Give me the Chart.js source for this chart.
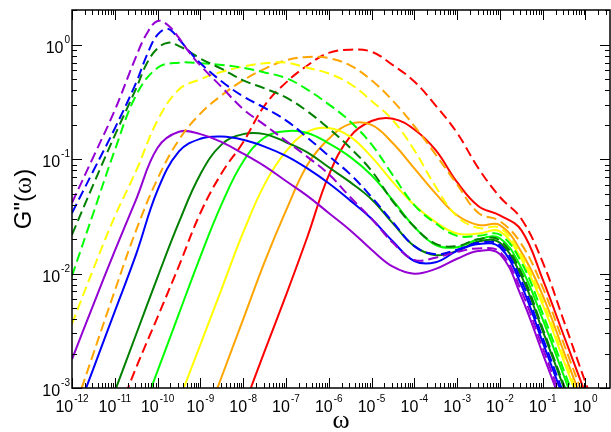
<!DOCTYPE html>
<html><head><meta charset="utf-8">
<script src="https://cdn.jsdelivr.net/npm/chart.js@4.4.0/dist/chart.umd.min.js"></script>
<style>html,body{margin:0;padding:0;background:#fff;}canvas{display:block;}</style>
</head><body>
<canvas id="c" width="611" height="432"></canvas>
<script>
// frequency grids (half decades; a finer one around the sharp low-frequency peaks)
const omega = [1e-12,3.16e-12,1e-11,3.16e-11,1e-10,3.16e-10,1e-9,3.16e-9,1e-8,3.16e-8,1e-7,3.16e-7,1e-6,3.16e-6,1e-5,3.16e-5,1e-4,3.16e-4,1e-3,3.16e-3,1e-2,3.16e-2,0.1,0.316,1,3.16];
const omegaFine = [1e-12,3.16e-12,1e-11,3.16e-11,5.62e-11,1e-10,1.78e-10,3.16e-10,5.62e-10,1e-9,3.16e-9,1e-8,3.16e-8,1e-7,3.16e-7,1e-6,3.16e-6,1e-5,3.16e-5,1e-4,3.16e-4,1e-3,3.16e-3,1e-2,3.16e-2,0.1,0.316,1,3.16];

const purpleSolid = [0.00178,0.00537,0.0158,0.0447,0.126,0.174,0.166,0.141,0.112,0.0871,0.0646,0.0479,0.0339,0.0240,0.0162,0.0115,0.0100,0.0110,0.0135,0.0158,0.0148,0.00631,0.00200,0.000631,null,null];
const purpleDash = [0.0417,0.105,0.269,0.794,1.26,1.62,1.48,1.15,0.851,0.661,0.427,0.275,0.200,0.145,0.105,0.0741,0.0468,0.0302,0.0186,0.0132,0.0138,0.0155,0.0166,0.0155,0.00708,0.00224,0.000708,null,null];
const blueSolid = [0.000468,0.00148,0.00468,0.0148,0.0537,0.117,0.151,0.158,0.148,0.129,0.107,0.0832,0.0617,0.0437,0.0302,0.0191,0.0129,0.0126,0.0158,0.0182,0.0170,0.00794,0.00251,0.000794,null,null];
const blueDash = [0.0339,0.0794,0.186,0.468,0.813,1.23,1.38,1.12,0.871,0.692,0.479,0.355,0.282,0.219,0.155,0.107,0.0741,0.0468,0.0282,0.0174,0.0148,0.0162,0.0186,0.0178,0.00871,0.00275,0.000871,null,null];
const darkGreenSolid = [null,null,0.000933,0.00295,0.00933,0.0282,0.0741,0.135,0.166,0.166,0.141,0.115,0.0851,0.0631,0.0447,0.0275,0.0174,0.0145,0.0158,0.0191,0.0186,0.00955,0.00316,0.00100,0.000316,null];
const darkGreenDash = [0.0219,0.0603,0.162,0.417,0.692,0.933,1.047,0.977,0.871,0.759,0.617,0.490,0.417,0.347,0.263,0.186,0.126,0.0794,0.0427,0.0257,0.0182,0.0174,0.0200,0.0195,0.0102,0.00331,0.00105,0.000331,null];
const greenSolid = [null,null,null,0.000447,0.00141,0.00447,0.0141,0.0407,0.0955,0.155,0.176,0.170,0.138,0.105,0.0724,0.0437,0.0257,0.0178,0.0170,0.0200,0.0204,0.0112,0.00398,0.00126,0.000398,null];
const greenDash = [0.00955,0.0339,0.120,0.363,0.631,0.700,0.692,0.668,0.631,0.575,0.513,0.407,0.302,0.214,0.135,0.0724,0.0398,0.0275,0.0214,0.0214,0.0219,0.0126,0.00447,0.00141,0.000447,null];
const yellowSolid = [null,null,null,null,null,0.000776,0.00240,0.00741,0.0229,0.0603,0.117,0.174,0.188,0.158,0.105,0.0631,0.0398,0.0282,0.0224,0.0224,0.0234,0.0135,0.00537,0.00170,0.000537,null];
const yellowDash = [0.00363,0.0110,0.0316,0.0794,0.219,0.407,0.501,0.582,0.646,0.692,0.700,0.631,0.562,0.457,0.324,0.219,0.120,0.0575,0.0316,0.0251,0.0251,0.0145,0.00575,0.00182,0.000575,null];
const orangeSolid = [null,null,null,null,null,null,0.000398,0.00126,0.00398,0.0126,0.0355,0.0891,0.151,0.204,0.200,0.138,0.0832,0.0501,0.0324,0.0266,0.0266,0.0155,0.00646,0.00204,0.000646,null];
const orangeDash = [0.000562,0.00200,0.00708,0.0240,0.0676,0.148,0.251,0.363,0.490,0.617,0.733,0.785,0.767,0.661,0.490,0.324,0.195,0.110,0.0603,0.0339,0.0288,0.0182,0.00759,0.00240,0.000759,null];
const redSolid = [null,null,null,null,null,null,null,null,0.000661,0.00209,0.00646,0.0209,0.0724,0.158,0.216,0.226,0.182,0.120,0.0631,0.0389,0.0324,0.0240,0.00891,0.00282,0.000891,null];
const redDash = [null,null,0.000501,0.00151,0.00417,0.0117,0.0339,0.0759,0.141,0.295,0.468,0.661,0.851,0.908,0.871,0.665,0.479,0.295,0.170,0.0832,0.0468,0.0302,0.0126,0.00380,0.00112,0.000355];

const xTickExponents = ['-12','-11','-10','-9','-8','-7','-6','-5','-4','-3','-2','-1','0'];
const yTickExponents = ['-3','-2','-1','0'];
const xTitle = 'ω';
const yTitleParts = ['G"(', 'ω', ')'];

const X_MIN = 1e-12, X_MAX = 3.74, Y_MIN = 1e-3, Y_MAX = 2.02;

function pts(xs, ys){ return xs.map((x,i)=>({x:x, y:ys[i]})); }
function ds(xs, ys, color, dashed){
  return { data: pts(xs, ys), borderColor: color, borderWidth: 2, borderDash: dashed ? [10,5] : [],
           pointRadius: 0, fill: false, tension: 0.4, cubicInterpolationMode: 'default', spanGaps: false };
}
const C = {purple:'#9400d3', blue:'#0000ff', dgreen:'#008000', green:'#00ff00', yellow:'#ffff00', orange:'#ffa500', red:'#ff0000'};
const datasets = [
  ds(omegaFine, purpleDash, C.purple, true),
  ds(omegaFine, blueDash, C.blue, true),
  ds(omegaFine, darkGreenDash, C.dgreen, true),
  ds(omega, greenDash, C.green, true),
  ds(omega, yellowDash, C.yellow, true),
  ds(omega, orangeDash, C.orange, true),
  ds(omega, redDash, C.red, true),
  ds(omega, purpleSolid, C.purple, false),
  ds(omega, blueSolid, C.blue, false),
  ds(omega, darkGreenSolid, C.dgreen, false),
  ds(omega, greenSolid, C.green, false),
  ds(omega, yellowSolid, C.yellow, false),
  ds(omega, orangeSolid, C.orange, false),
  ds(omega, redSolid, C.red, false)
];

const BASE_FONT = '16px "Liberation Sans", Arial, sans-serif';
const SUP_FONT = '10px "Liberation Sans", Arial, sans-serif';

function drawPow(ctx, exp, x, y, align){
  ctx.font = BASE_FONT; const wb = ctx.measureText('10').width;
  ctx.font = SUP_FONT; const ws = ctx.measureText(exp).width;
  const gap = 1, total = wb + gap + ws;
  const x0 = align === 'center' ? x - total/2 : x - total;
  ctx.font = BASE_FONT; ctx.fillText('10', x0, y);
  ctx.font = SUP_FONT; ctx.fillText(exp, x0 + wb + gap, y - 10);
}

const framePlugin = {
  id: 'frame',
  afterDatasetsDraw(chart){
    const ctx = chart.ctx, a = chart.chartArea, xs = chart.scales.x, ys = chart.scales.y;
    ctx.save();
    ctx.fillStyle = '#000'; ctx.strokeStyle = '#000';
    ctx.lineWidth = 1;
    ctx.beginPath();
    for (let d = -12; d <= 0; d++){
      for (let m = 1; m <= 9; m++){
        const v = m * Math.pow(10, d);
        if (v < X_MIN || v > X_MAX) continue;
        const px = Math.round(xs.getPixelForValue(v)) + 0.5;
        const len = m === 1 ? 10 : 5;
        ctx.moveTo(px, a.bottom); ctx.lineTo(px, a.bottom - len);
        ctx.moveTo(px, a.top); ctx.lineTo(px, a.top + len);
      }
    }
    for (let d = -3; d <= 0; d++){
      for (let m = 1; m <= 9; m++){
        const v = m * Math.pow(10, d);
        if (v < Y_MIN || v > Y_MAX) continue;
        const py = Math.round(ys.getPixelForValue(v)) + 0.5;
        const len = m === 1 ? 10 : 5;
        ctx.moveTo(a.left, py); ctx.lineTo(a.left + len, py);
        ctx.moveTo(a.right, py); ctx.lineTo(a.right - len, py);
      }
    }
    ctx.stroke();
    ctx.lineWidth = 1.5;
    ctx.strokeRect(a.left, a.top, a.right - a.left, a.bottom - a.top);
    ctx.textBaseline = 'alphabetic'; ctx.textAlign = 'left';
    xTickExponents.forEach(e => {
      const px = xs.getPixelForValue(Math.pow(10, +e));
      drawPow(ctx, e, px, a.bottom + 24, 'center');
    });
    yTickExponents.forEach(e => {
      const py = ys.getPixelForValue(Math.pow(10, +e));
      drawPow(ctx, e, a.left - 2, py + 8, 'right');
    });
    ctx.font = '26px "Liberation Serif", "Times New Roman", serif';
    ctx.textAlign = 'center';
    ctx.fillText(xTitle, (a.left + a.right)/2, 428);
    ctx.translate(31, 199);
    ctx.rotate(-Math.PI/2);
    const f1 = '24px "Liberation Sans", Arial, sans-serif', f2 = '26px "Liberation Serif", serif';
    ctx.font = f1; const w1 = ctx.measureText(yTitleParts[0]).width, w3 = ctx.measureText(yTitleParts[2]).width;
    ctx.font = f2; const w2 = ctx.measureText(yTitleParts[1]).width;
    let x0 = -(w1 + w2 + w3)/2;
    ctx.textAlign = 'left';
    ctx.font = f1; ctx.fillText(yTitleParts[0], x0, 0);
    ctx.font = f2; ctx.fillText(yTitleParts[1], x0 + w1, 0);
    ctx.font = f1; ctx.fillText(yTitleParts[2], x0 + w1 + w2, 0);
    ctx.restore();
  }
};

new Chart(document.getElementById('c').getContext('2d'), {
  type: 'line',
  data: { datasets: datasets },
  options: {
    responsive: false, animation: false, devicePixelRatio: 1,
    layout: { padding: { left: 72, right: 1, top: 10, bottom: 44 } },
    plugins: { legend: { display: false }, tooltip: { enabled: false } },
    scales: {
      x: { type: 'logarithmic', min: X_MIN, max: X_MAX, display: false },
      y: { type: 'logarithmic', min: Y_MIN, max: Y_MAX, display: false }
    }
  },
  plugins: [framePlugin]
});
</script>
</body></html>
